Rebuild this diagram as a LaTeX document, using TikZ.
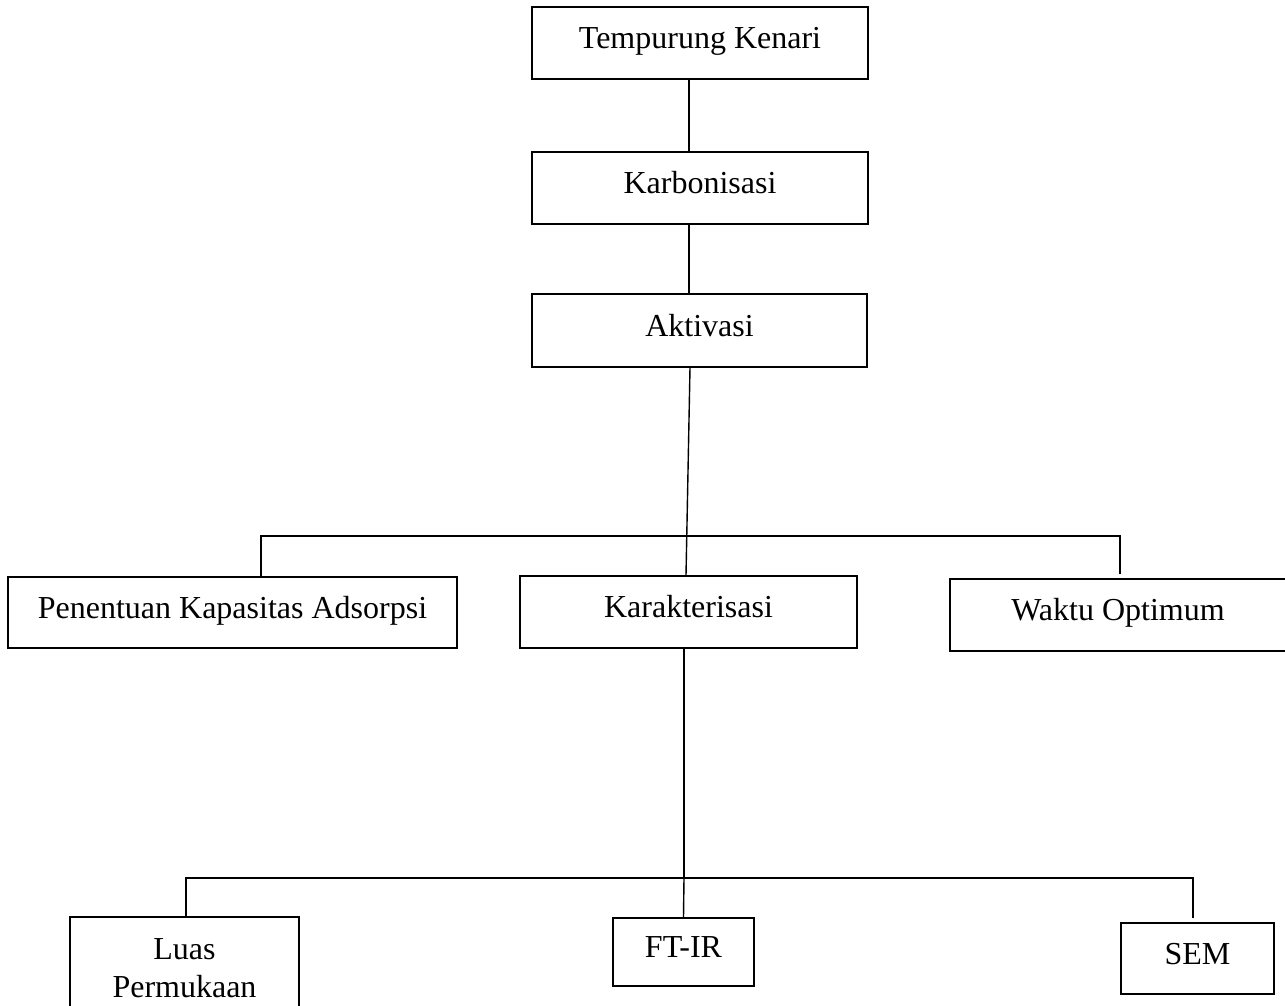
\documentclass[tikz,border=0pt]{standalone}
\usepackage{fontspec}
\setmainfont{Liberation Serif}
\begin{document}
\begin{tikzpicture}[x=0.5pt, y=-0.5pt]
    \tikzstyle{box}=[draw, line width=0.7pt, inner sep=0pt, align=center, text height=11pt, text depth=5.4pt, font=\fontsize{16}{19}\selectfont]
    \tikzstyle{link}=[line width=0.7pt]

    \useasboundingbox (0,0) rectangle (1285,1006);

    % Draw main process boxes
    \node[box, minimum width=168pt, minimum height=36pt] (temp) at (700,43) {Tempurung Kenari};
    \node[box, minimum width=168pt, minimum height=36pt] (karb) at (700,188) {Karbonisasi};
    \node[box, minimum width=167.5pt, minimum height=36.5pt] (akt) at (699.5,330.5) {Aktivasi};

    % Draw middle row
    \node[box, minimum width=224.5pt, minimum height=35.5pt] (pen) at (232.5,612.5) {Penentuan Kapasitas Adsorpsi};
    \node[box, minimum width=168.5pt, minimum height=36pt] (kar) at (688.5,612) {Karakterisasi};
    \node[box, minimum width=168pt, minimum height=36pt] (wak) at (1118,615) {Waktu Optimum};

    % Draw bottom row
    \node[box, minimum width=114.5pt, minimum height=75pt] (luas) at (184.5,992) {Luas\\Permukaan};
    \node[box, minimum width=70.5pt, minimum height=34pt] (ftir) at (683.5,952) {FT-IR};
    \node[box, minimum width=76.5pt, minimum height=35.5pt] (sem) at (1197.5,958.5) {SEM};

    % Bus coordinates
    \coordinate (busL) at (261,536);
    \coordinate (busR) at (1120,536);
    \coordinate (wakEnd) at (1120,574);
    \coordinate (karDown) at (684,878);
    \coordinate (busL2) at (186,878);
    \coordinate (busR2) at (1193,878);
    \coordinate (semEnd) at (1193,918);

    % Connect main chain
    \draw[link] ([xshift=-5.5pt]temp.south) -- ([xshift=-5.5pt]karb.north);
    \draw[link] ([xshift=-5.5pt]karb.south) -- ([xshift=-5.25pt]akt.north);
    \draw[link] ([xshift=-4.75pt]akt.south) -- ([xshift=-1.25pt]kar.north);

    % Upper branch
    \draw[link] (pen.north -| busL) -- (busL) -- (busR) -- (wakEnd);

    % Lower branch
    \draw[link] ([xshift=-2.25pt]kar.south) -- (karDown);
    \draw[link] (luas.north -| busL2) -- (busL2) -- (busR2) -- (semEnd);
    \draw[link] (karDown) -- (ftir.north);
\end{tikzpicture}
\end{document}
